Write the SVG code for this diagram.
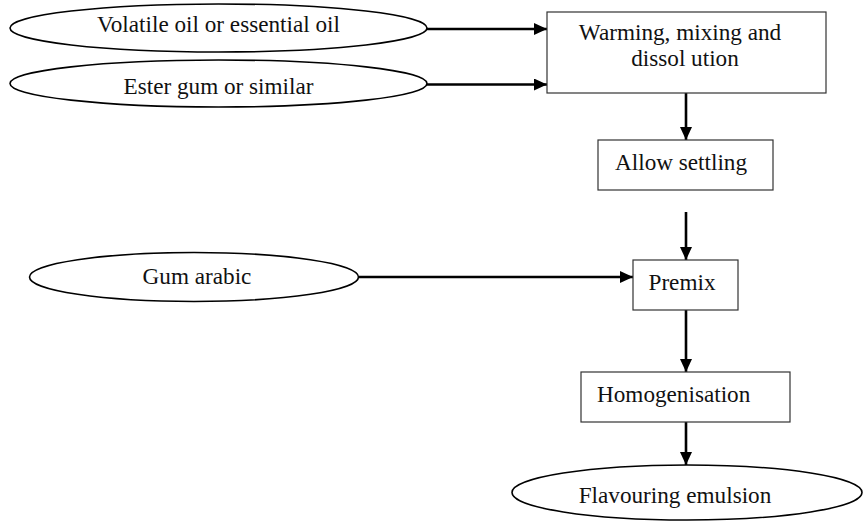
<svg xmlns="http://www.w3.org/2000/svg" width="863" height="522" viewBox="0 0 863 522">
<style>
  .t { font-family: "Liberation Serif", "Times New Roman", serif; font-size: 23.2px; fill: #111; }
  .ell { fill: #fff; stroke: #000; stroke-width: 1.6; }
  .box { fill: #fff; stroke: #333; stroke-width: 1.2; }
  .con { stroke: #000; stroke-width: 2.6; fill: none; marker-end: url(#ah); }
</style>
<defs>
  <marker id="ah" markerUnits="userSpaceOnUse" markerWidth="14" markerHeight="12" refX="13" refY="6" orient="auto">
    <path d="M0,0 L13,6 L0,12 Z" fill="#000"/>
  </marker>
</defs>
<rect width="863" height="522" fill="#fff"/>
<g id="connectors">
  <line class="con" x1="427" y1="29" x2="547" y2="29"/>
  <line class="con" x1="427" y1="84.5" x2="547" y2="84.5"/>
  <line class="con" x1="686" y1="93" x2="686" y2="140"/>
  <line class="con" x1="686" y1="212" x2="686" y2="260"/>
  <line class="con" x1="358.5" y1="277" x2="633" y2="277"/>
  <line class="con" x1="686" y1="310" x2="686" y2="372"/>
  <line class="con" x1="686" y1="422" x2="686" y2="465"/>
</g>
<g id="volatile-oil">
  <ellipse class="ell" cx="218.5" cy="28" rx="208.5" ry="24"/>
  <text class="t" x="218.5" y="31.7" text-anchor="middle">Volatile oil or essential oil</text>
</g>
<g id="ester-gum">
  <ellipse class="ell" cx="218.5" cy="83.5" rx="208.5" ry="23.5"/>
  <text class="t" x="218.5" y="94.3" text-anchor="middle">Ester gum or similar</text>
</g>
<g id="warming">
  <rect class="box" x="547" y="12" width="279" height="81"/>
  <text class="t" x="680" y="40" text-anchor="middle">Warming, mixing and</text>
  <text class="t" x="685" y="66" text-anchor="middle">dissol ution</text>
</g>
<g id="allow-settling">
  <rect class="box" x="598" y="140" width="175" height="50"/>
  <text class="t" x="615" y="169.5">Allow settling</text>
</g>
<g id="gum-arabic">
  <ellipse class="ell" cx="194" cy="277" rx="164.5" ry="24.5"/>
  <text class="t" x="197" y="283.5" text-anchor="middle">Gum arabic</text>
</g>
<g id="premix">
  <rect class="box" x="633" y="260" width="105" height="50"/>
  <text class="t" x="648.5" y="289.5">Premix</text>
</g>
<g id="homogenisation">
  <rect class="box" x="581" y="372" width="209" height="50"/>
  <text class="t" x="597" y="401.7">Homogenisation</text>
</g>
<g id="flavouring-emulsion">
  <ellipse class="ell" cx="687" cy="492.5" rx="175" ry="27.5"/>
  <text class="t" x="675" y="502.7" text-anchor="middle">Flavouring emulsion</text>
</g>
</svg>
